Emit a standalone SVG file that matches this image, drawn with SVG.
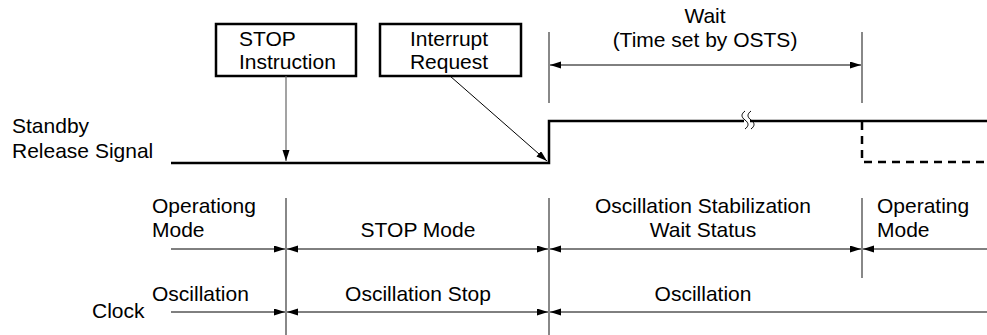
<svg xmlns="http://www.w3.org/2000/svg" width="987" height="335" viewBox="0 0 987 335">
<defs>
<style>
text{font-family:"Liberation Sans",Arial,sans-serif;font-size:21px;fill:#000}
.c{text-anchor:middle}
.box{fill:#fff;stroke:#000;stroke-width:2.5}
.sig{fill:none;stroke:#000;stroke-width:2.5}
.dash{fill:none;stroke:#000;stroke-width:2.5;stroke-dasharray:8 6}
.thin{fill:none;stroke:#000;stroke-width:1}
.div{fill:none;stroke:#888;stroke-width:2}
</style>
<marker id="ah" markerUnits="userSpaceOnUse" markerWidth="12" markerHeight="8" refX="11" refY="3.5" orient="auto">
<path d="M0,0 L11,3.5 L0,7 z" fill="#000"/>
</marker>
</defs>
<rect width="987" height="335" fill="#fff"/>

<g id="stop-instruction">
<rect class="box" x="216" y="24" width="140" height="52"/>
<text x="239" y="46">STOP</text>
<text x="239" y="69">Instruction</text>
</g>
<g id="interrupt-request">
<rect class="box" x="380" y="24" width="141" height="52"/>
<text class="c" x="449" y="46">Interrupt</text>
<text class="c" x="449" y="69">Request</text>
</g>

<g id="labels">
<text x="12" y="133">Standby</text>
<text x="12" y="158">Release Signal</text>
<text class="c" x="705" y="23">Wait</text>
<text class="c" x="705" y="47">(Time set by OSTS)</text>
<text x="152" y="213">Operationg</text>
<text x="152" y="237">Mode</text>
<text class="c" x="418" y="237">STOP Mode</text>
<text class="c" x="703" y="213">Oscillation Stabilization</text>
<text class="c" x="703" y="237">Wait Status</text>
<text x="877" y="213">Operating</text>
<text x="877" y="237">Mode</text>
<text x="152" y="301">Oscillation</text>
<text x="92" y="318">Clock</text>
<text class="c" x="418" y="301">Oscillation Stop</text>
<text class="c" x="703" y="301">Oscillation</text>
</g>

<g id="signal">
<path class="sig" d="M171,163 H549 V121 H744"/>
<path class="sig" d="M750,121 H987"/>
<path class="thin" stroke-width="1.4" d="M745,111 C741,114 741,117 745,120 C749,123 749,126 745,129"/>
<path class="thin" stroke-width="1.4" d="M751,111 C747,114 747,117 751,120 C755,123 755,126 751,129"/>
<path class="dash" d="M862,122 V162 H987"/>
</g>

<g id="connectors">
<line class="div" x1="549" y1="32" x2="549" y2="103"/>
<line class="div" x1="862" y1="32" x2="862" y2="103"/>
<line class="thin" x1="705" y1="65" x2="550" y2="65" marker-end="url(#ah)"/>
<line class="thin" x1="705" y1="65" x2="861" y2="65" marker-end="url(#ah)"/>
<line stroke="#666" stroke-width="1.2" x1="286" y1="76" x2="286" y2="161" marker-end="url(#ah)"/>
<line class="thin" x1="450" y1="76" x2="547" y2="161" marker-end="url(#ah)"/>

<line class="div" x1="286" y1="198" x2="286" y2="335"/>
<line class="div" x1="549" y1="198" x2="549" y2="335"/>
<line class="div" x1="862" y1="198" x2="862" y2="278"/>

<line class="thin" x1="171" y1="249" x2="285" y2="249" marker-end="url(#ah)"/>
<line class="thin" x1="418" y1="249" x2="287" y2="249" marker-end="url(#ah)"/>
<line class="thin" x1="418" y1="249" x2="548" y2="249" marker-end="url(#ah)"/>
<line class="thin" x1="705" y1="249" x2="550" y2="249" marker-end="url(#ah)"/>
<line class="thin" x1="705" y1="249" x2="861" y2="249" marker-end="url(#ah)"/>
<line class="thin" x1="987" y1="249" x2="863" y2="249" marker-end="url(#ah)"/>

<line class="thin" x1="171" y1="312" x2="285" y2="312" marker-end="url(#ah)"/>
<line class="thin" x1="418" y1="312" x2="287" y2="312" marker-end="url(#ah)"/>
<line class="thin" x1="418" y1="312" x2="548" y2="312" marker-end="url(#ah)"/>
<line class="thin" x1="987" y1="312" x2="550" y2="312" marker-end="url(#ah)"/>
</g>
</svg>
